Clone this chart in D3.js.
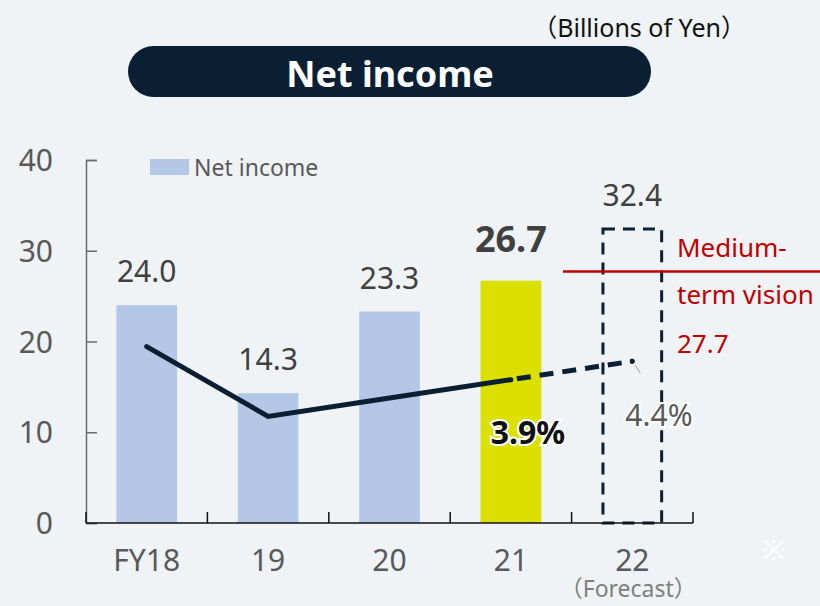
<!DOCTYPE html>
<html>
<head>
<meta charset="utf-8">
<script src="https://cdn.jsdelivr.net/npm/d3@7"></script>
<style>
  body { margin: 0; background: #eff3f5; }
  svg { display: block; font-family: "Noto Sans", "Noto Sans CJK JP", sans-serif; }
</style>
</head>
<body>
<svg id="svg1"></svg>
<script>
const years = ["FY18", "19", "20", "21", "22"];
const netIncome = [24.0, 14.3, 23.3, 26.7, 32.4];
const ratio = [4.8, 2.9, 3.4, 3.9, 4.4];
const yTicks = [0, 10, 20, 30, 40];
const visionValue = 27.7;

const width = 820;
const height = 606;
const plot = {left: 86, right: 693, top: 160, bottom: 523};

const svg = d3.select('#svg1')
    .attr('width', width)
    .attr('height', height);

svg.append('rect')
    .attr('width', width).attr('height', height)
    .attr('fill', '#eff3f5');

const x = d3.scaleBand()
    .domain(years)
    .range([plot.left, plot.right])
    .paddingInner(0.5)
    .paddingOuter(0.25);
const y = d3.scaleLinear()
    .domain([0, 40])
    .range([plot.bottom, plot.top]);
// ratio line sits on its own hidden scale
const y2 = d3.scaleLinear()
    .domain([0, 10])
    .range([y(0), y(40.5)]);
const cx = d => x(d) + x.bandwidth() / 2;

// title
svg.append('text')
    .attr('x', 746).attr('y', 37)
    .attr('text-anchor', 'end')
    .attr('font-size', 25)
    .attr('fill', '#111')
    .text('（Billions of Yen）');
svg.append('rect')
    .attr('x', 128).attr('y', 46)
    .attr('width', 523).attr('height', 51)
    .attr('rx', 25.5)
    .attr('fill', '#0a1f33');
svg.append('text')
    .attr('x', 390).attr('y', 87)
    .attr('text-anchor', 'middle')
    .attr('font-size', 36)
    .attr('font-weight', 'bold')
    .attr('fill', '#fff')
    .text('Net income');

// y axis
const yAxis = svg.append('g')
    .attr('transform', 'translate(' + plot.left + ',0)')
    .call(d3.axisRight(y).tickValues(yTicks).tickSize(11).tickFormat(''));
yAxis.select('.domain').attr('stroke', '#6b6b6b').attr('stroke-width', 1.5);
yAxis.selectAll('.tick line').attr('stroke', '#6b6b6b').attr('stroke-width', 1.5);
svg.selectAll('.ylab')
    .data(yTicks)
    .enter()
    .append('text')
    .attr('x', 53)
    .attr('y', d => y(d) + 11)
    .attr('text-anchor', 'end')
    .attr('font-size', 30)
    .attr('fill', '#595959')
    .text(d => d);

// bars
svg.selectAll('.bar')
    .data(years.slice(0, 4))
    .enter()
    .append('rect')
    .attr('x', d => x(d))
    .attr('y', (d, i) => y(netIncome[i]))
    .attr('width', x.bandwidth())
    .attr('height', (d, i) => y(0) - y(netIncome[i]))
    .attr('fill', (d, i) => i === 3 ? '#dbe000' : '#b4c7e7');

// forecast bar, dashed outline
svg.append('rect')
    .attr('x', x('22') + 1)
    .attr('y', y(netIncome[4]))
    .attr('width', x.bandwidth() - 2)
    .attr('height', y(0) - y(netIncome[4]))
    .attr('fill', 'none')
    .attr('stroke', '#0b2033')
    .attr('stroke-width', 3)
    .attr('stroke-dasharray', '12,8');

// x axis
svg.append('line')
    .attr('x1', plot.left).attr('x2', plot.right)
    .attr('y1', plot.bottom).attr('y2', plot.bottom)
    .attr('stroke', '#111').attr('stroke-width', 1.5);
const bounds = years.map(d => x(d) + x.bandwidth() + x.step() * 0.25);
svg.selectAll('.xtick')
    .data(bounds)
    .enter()
    .append('line')
    .attr('x1', d => d).attr('x2', d => d)
    .attr('y1', plot.bottom).attr('y2', plot.bottom - 11)
    .attr('stroke', '#111').attr('stroke-width', 1.5);
svg.append('line')
    .attr('x1', plot.left).attr('x2', plot.left)
    .attr('y1', plot.bottom).attr('y2', plot.bottom - 11)
    .attr('stroke', '#111').attr('stroke-width', 1.5);
const xlab = svg.selectAll('.xlab')
    .data(years)
    .enter()
    .append('text')
    .attr('x', d => cx(d))
    .attr('y', 571)
    .attr('text-anchor', 'middle')
    .attr('font-size', 30)
    .attr('fill', '#595959');
xlab.append('tspan').text(d => d);
// forecast note under the last label
xlab.filter(d => d === '22')
    .append('tspan')
    .attr('x', d => cx(d) - 4)
    .attr('dy', 26)
    .attr('font-size', 23)
    .attr('fill', '#7f7f7f')
    .text('（Forecast）');

// value labels
svg.selectAll('.val')
    .data(years)
    .enter()
    .append('text')
    .attr('x', d => cx(d))
    .attr('y', (d, i) => y(netIncome[i]) - (i === 3 ? 29 : 23))
    .attr('text-anchor', 'middle')
    .attr('font-size', (d, i) => i === 3 ? 36 : 30)
    .attr('font-weight', (d, i) => i === 3 ? 'bold' : 'normal')
    .attr('fill', '#404040')
    .text((d, i) => netIncome[i].toFixed(1));

// medium-term vision
svg.append('line')
    .attr('x1', 563).attr('x2', width)
    .attr('y1', y(visionValue)).attr('y2', y(visionValue))
    .attr('stroke', '#c00000').attr('stroke-width', 2.5);
[['Medium-', 257], ['term vision', 304], [visionValue.toFixed(1), 353]].forEach(function(t) {
  svg.append('text')
      .attr('x', 677).attr('y', t[1])
      .attr('font-size', 26)
      .attr('fill', '#c00000')
      .text(t[0]);
});

// ratio line
const line = d3.line()
    .x(d => cx(d.year))
    .y(d => y2(d.v));
const pts = years.map((d, i) => ({year: d, v: ratio[i]}));
svg.append('path')
    .attr('d', line(pts.slice(0, 4)))
    .attr('fill', 'none')
    .attr('stroke', '#0b1f33')
    .attr('stroke-width', 5)
    .attr('stroke-linecap', 'round');
svg.append('path')
    .attr('d', line(pts.slice(3)))
    .attr('fill', 'none')
    .attr('stroke', '#0b1f33')
    .attr('stroke-width', 5)
    .attr('stroke-dasharray', '14,9')
    .attr('stroke-dashoffset', -6);
svg.append('circle')
    .attr('cx', cx('22')).attr('cy', y2(ratio[4]))
    .attr('r', 2.5)
    .attr('fill', '#0b1f33');
svg.append('line')
    .attr('x1', cx('22') + 3).attr('y1', y2(ratio[4]) + 4)
    .attr('x2', cx('22') + 8).attr('y2', y2(ratio[4]) + 12)
    .attr('stroke', '#999').attr('stroke-width', 1);

// ratio labels with white halo
svg.append('text')
    .attr('x', 528).attr('y', 444)
    .attr('text-anchor', 'middle')
    .attr('font-size', 32)
    .attr('font-weight', 'bold')
    .attr('fill', '#111')
    .attr('stroke', '#fff').attr('stroke-width', 4)
    .attr('paint-order', 'stroke')
    .text(ratio[3].toFixed(1) + '%');
svg.append('text')
    .attr('x', 659).attr('y', 426)
    .attr('text-anchor', 'middle')
    .attr('font-size', 30)
    .attr('fill', '#595959')
    .attr('stroke', '#fff').attr('stroke-width', 4)
    .attr('paint-order', 'stroke')
    .text(ratio[4].toFixed(1) + '%');

// legend
svg.append('rect')
    .attr('x', 150).attr('y', 159)
    .attr('width', 39).attr('height', 16)
    .attr('fill', '#b4c7e7');
svg.append('text')
    .attr('x', 194).attr('y', 176)
    .attr('font-size', 23)
    .attr('fill', '#595959')
    .text('Net income');

// note mark
svg.append('text')
    .attr('x', 774).attr('y', 560)
    .attr('text-anchor', 'middle')
    .attr('font-size', 28)
    .attr('fill', '#fff')
    .text('※');
</script>
</body>
</html>
